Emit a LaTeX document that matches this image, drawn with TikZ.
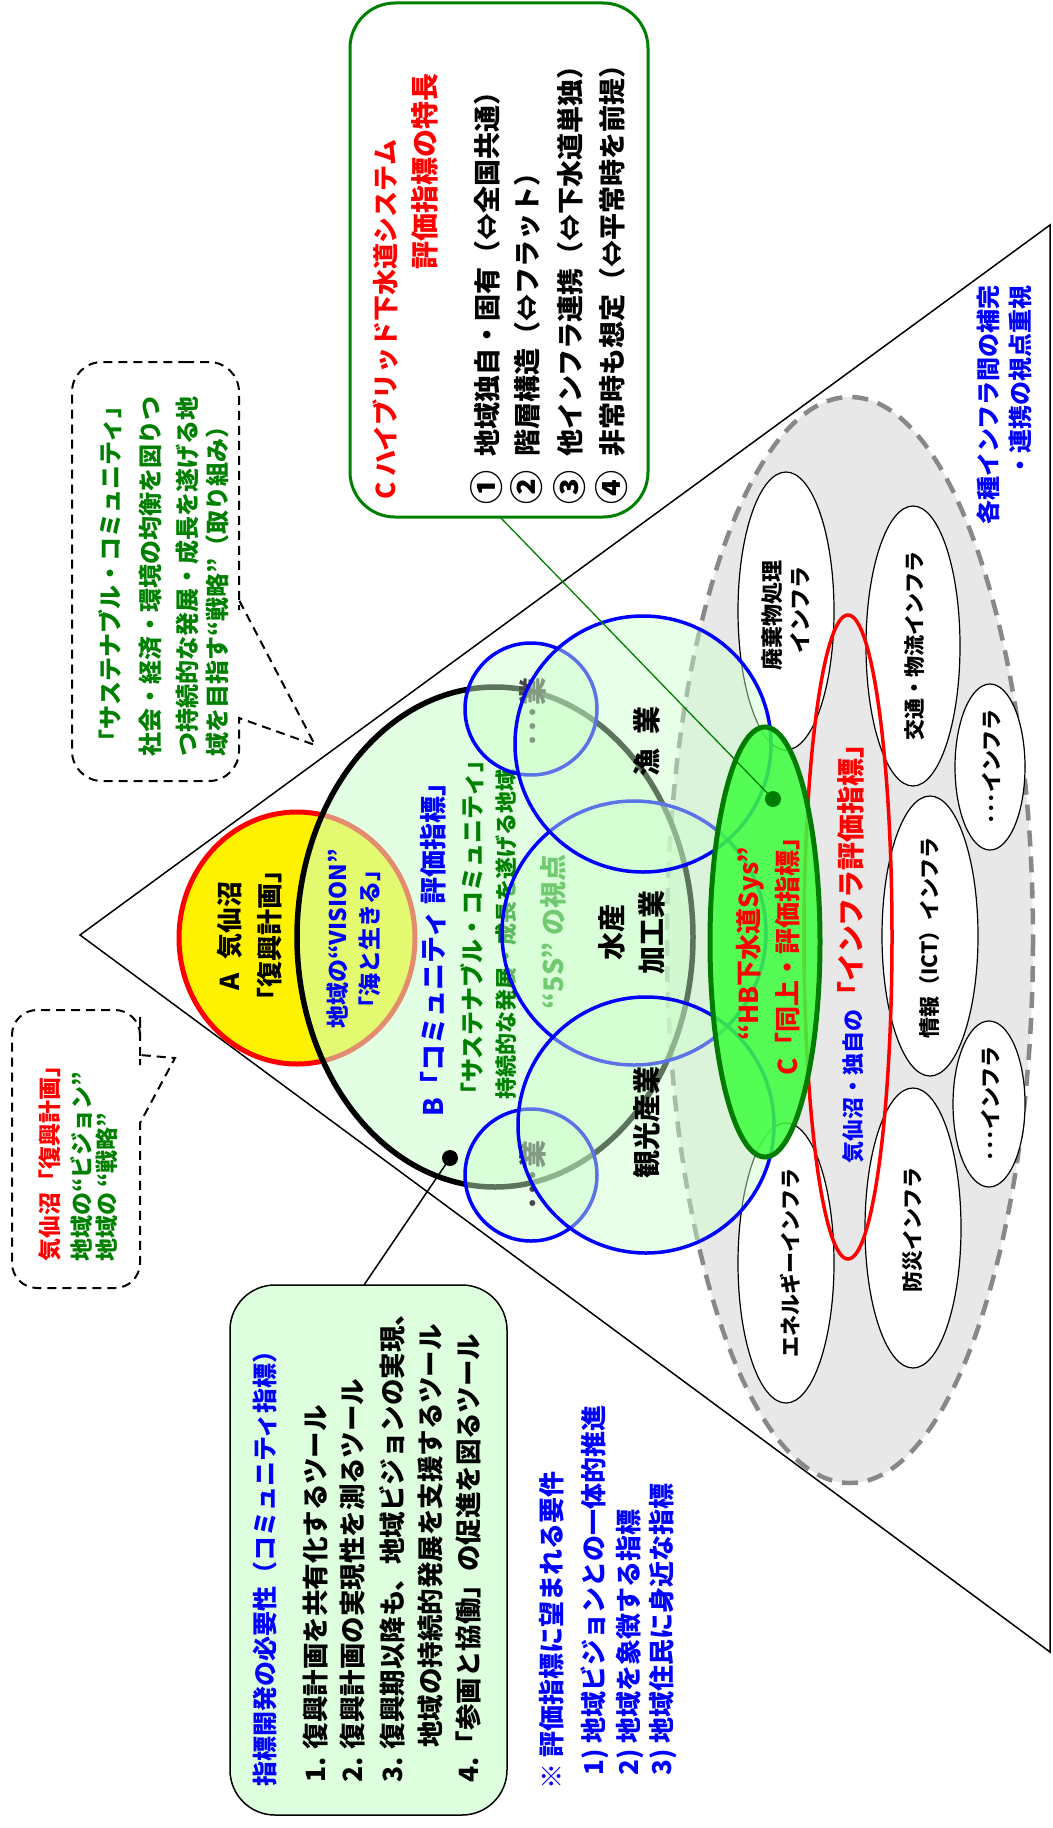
\documentclass[tikz,border=0pt]{standalone}
\usepackage{fontspec}
\setmainfont{Noto Sans CJK JP}
\usetikzlibrary{calc}
\newcommand\fsz[1]{\fontsize{#1pt}{#1pt}\selectfont}
\newcommand\cnum[1]{\raisebox{-2pt}{\fsz{34}#1}}
\definecolor{jblue}{RGB}{0,0,255}
\definecolor{jred}{RGB}{255,0,0}
\definecolor{jgreen}{RGB}{0,128,0}
\definecolor{paleg}{RGB}{204,255,204}
\definecolor{boxg}{RGB}{222,255,222}
\definecolor{infrag}{RGB}{232,232,232}
\definecolor{dashg}{RGB}{136,136,136}
\definecolor{hbg}{RGB}{60,255,60}
\definecolor{hbdark}{RGB}{0,125,0}
\definecolor{fivesg}{RGB}{40,160,40}
\definecolor{dotgray}{RGB}{70,70,70}

\begin{document}
\begin{tikzpicture}[x=1pt,y=-1pt,
  vt/.style={rotate=90,inner sep=0pt,font=\bfseries\fsz{#1}},
  circ/.style={draw=jblue,line width=3.5pt,fill=paleg,fill opacity=0.45},
  infra/.style={draw=black,line width=1.2pt,fill=white},
  callout/.style={draw=black,line width=2pt,dash pattern=on 9pt off 6pt},
  bubble/.style={rounded corners=45pt,inner sep=0pt}]
\useasboundingbox (0,0) rectangle (1052,1828);

% outer triangle
\draw[line width=1.5pt] (80,935) -- (1050,225) -- (1050,1652) -- cycle;

% infrastructure field
\fill[infrag] (850,940) ellipse[x radius=183,y radius=543];
\draw[dashg,line width=4.5pt,dash pattern=on 16pt off 10pt] (850,940) ellipse[x radius=183,y radius=543];

% individual infrastructures
\draw[infra] (786,611) ellipse[x radius=48,y radius=139];
\draw[infra] (913,646) ellipse[x radius=47,y radius=140];
\draw[infra] (990,767) ellipse[x radius=35,y radius=83];
\draw[infra] (930,936) ellipse[x radius=48,y radius=140];
\draw[infra] (989,1104) ellipse[x radius=36,y radius=83];
\draw[infra] (913,1228) ellipse[x radius=48,y radius=140];
\draw[infra] (786,1263) ellipse[x radius=48,y radius=140];
\node[vt=22] (waste1) at (772,615) {廃棄物処理};
\node[vt=22] (waste2) at (800,610) {インフラ};
\node[vt=21] (traffic) at (915,646) {交通・物流インフラ};
\node[vt=21] (etcup) at (992,767) {･･･インフラ};
\node[vt=21] (ict) at (930,938) {情報（ICT）インフラ};
\node[vt=21] (etclow) at (991,1104) {･･･インフラ};
\node[vt=21] (disaster) at (913,1230) {防災インフラ};
\node[vt=21] (energy) at (790,1263) {エネルギーインフラ};

% local infrastructure index
\draw[jred,line width=3.5pt] (848,937) ellipse[x radius=44,y radius=322];
\node[vt=22,anchor=west,text=jblue] (infraidx) at (851,1164)
  {気仙沼・独自の{\color{jred}\fsz{28}「インフラ評価指標」}};

% A: reconstruction plan
\filldraw[fill=yellow,draw=jred,line width=5pt] (297,938) ellipse[x radius=118,y radius=126];
\node[vt=26] (a1) at (230,936) {A\hspace{14pt}気仙沼};
\node[vt=26] (a2) at (270,935) {「復興計画」};

% B: community index
\fill[paleg,opacity=0.55] (495,937) ellipse[x radius=198,y radius=250];
\draw[line width=5.5pt] (495,937) ellipse[x radius=198,y radius=250];
\node[vt=23,text=jblue] (vis1) at (338,939) {地域の“VISION”};
\node[vt=23,text=jblue] (vis2) at (370,939) {「海と生きる」};
\node[vt=27,anchor=west,text=jblue] (btitle) at (433,1117) {B「コミュニティ 評価指標」};
\node[vt=24,anchor=west,text=jgreen] (bsus) at (472,1107) {「サステナブル・コミュニティ」};
\node[vt=22,anchor=west,text=jgreen] (bdev) at (506,1100) {持続的な発展・成長を遂げる地域};
\node[vt=27,text=fivesg] (fives) at (553,932) {“5S” の視点};

% industry circles
\draw[circ] (531,709) circle[radius=66];
\draw[circ] (531,1175) circle[radius=66];
\node[vt=28,text=dotgray] (indup) at (533,712) {･･･業};
\node[vt=28,text=dotgray] (indlow) at (533,1175) {･･･業};
\draw[circ] (634,933) circle[radius=132];
\draw[circ] (643,744) circle[radius=128];
\draw[circ] (646,1125) circle[radius=128];
\node[vt=28] (fish) at (647,741) {漁\hspace{14pt}業};
\node[vt=28] (proc1) at (612,932) {水産};
\node[vt=28] (proc2) at (652,932) {加工業};
\node[vt=28] (tour) at (647,1122) {観光産業};

% C: hybrid sewerage system
\filldraw[fill=hbg,fill opacity=0.85,draw=hbdark,line width=5pt] (765,942) ellipse[x radius=55,y radius=215];
\node[vt=26,text=jred] (hb1) at (750,944) {“HB下水道Sys”};
\node[vt=26,text=jred] (hb2) at (788,950) {C「同上・評価指標」};
\coordinate (hbdot) at (773,799);

% C box with features
\node[bubble,draw=jgreen,line width=3pt,fill=white,minimum width=298pt,minimum height=514pt] (cbox) at (499,260) {};
\node[vt=26,anchor=west,text=jred] (ctitle) at (385,500) {C ハイブリッド下水道システム};
\node[vt=28,anchor=west,text=jred] (csub) at (425,270) {評価指標の特長};
\node[vt=27,anchor=west] (c1) at (487,505) {\cnum{①}\hspace{14pt}地域独自・固有（⇔全国共通）};
\node[vt=27,anchor=west] (c2) at (527,505) {\cnum{②}\hspace{14pt}階層構造（⇔フラット）};
\node[vt=27,anchor=west] (c3) at (570,505) {\cnum{③}\hspace{14pt}他インフラ連携（⇔下水道単独）};
\node[vt=27,anchor=west] (c4) at (612,505) {\cnum{④}\hspace{14pt}非常時も想定（⇔平常時を前提）};
\coordinate (ctail) at (500,517);
\draw[jgreen,line width=1.3pt] (ctail) -- (hbdot);
\fill[hbdark] (hbdot) circle[radius=8];

% index development box
\node[bubble,draw=black,line width=1.5pt,fill=boxg,minimum width=277pt,minimum height=530pt] (needbox) at (368.5,1550) {};
\node[vt=25,anchor=west,text=jblue] (needtitle) at (265,1787) {指標開発の必要性（コミュニティ指標）};
\node[vt=26.5,anchor=west] (need1) at (315,1783) {1. 復興計画を共有化するツール};
\node[vt=26.5,anchor=west] (need2) at (353,1783) {2. 復興計画の実現性を測るツール};
\node[vt=26.5,anchor=west] (need3) at (392,1783) {3. 復興期以降も、地域ビジョンの実現、};
\node[vt=26.5,anchor=west] (need3b) at (430,1748) {地域の持続的発展を支援するツール};
\node[vt=26.5,anchor=west] (need4) at (468,1783) {4.「参画と協働」の促進を図るツール};
\coordinate (bdot) at (450,1158);
\coordinate (needtop) at (364,1285);
\draw[line width=1.5pt] (bdot) -- (needtop);
\fill (bdot) circle[radius=8];

% requirements
\node[vt=26,anchor=west,text=jblue] (req0) at (552,1790) {※ 評価指標に望まれる要件};
\node[vt=26,anchor=west,text=jblue] (req1) at (595,1776) {1) 地域ビジョンとの一体的推進};
\node[vt=26,anchor=west,text=jblue] (req2) at (630,1776) {2) 地域を象徴する指標};
\node[vt=26,anchor=west,text=jblue] (req3) at (663,1776) {3) 地域住民に身近な指標};

% callout: sustainable community
\draw[callout] (155,362) [rounded corners=30pt] -- (239,362) -- (239,580)
  [sharp corners] -- (239,600) -- (315,745) -- (239,718) -- (239,740)
  [rounded corners=30pt] -- (239,781) -- (72,781) -- (72,362) -- cycle;
\node[vt=24,text=jgreen] (sus0) at (110,574) {「サステナブル・コミュニティ」};
\node[vt=24,anchor=west,text=jgreen] (sus1) at (150,757) {社会・経済・環境の均衡を図りつ};
\node[vt=24,anchor=west,text=jgreen] (sus2) at (187,757) {つ持続的な発展・成長を遂げる地};
\node[vt=24,anchor=west,text=jgreen] (sus3) at (217,757) {域を目指す“戦略”（取り組み）};

% callout: plan, vision, strategy
\draw[callout] (76,1010) [rounded corners=25pt] -- (140,1010) -- (140,1040)
  [sharp corners] -- (140,1055) -- (175,1058) -- (140,1123) -- (140,1140)
  [rounded corners=25pt] -- (140,1288) -- (12,1288) -- (12,1010) -- cycle;
\node[vt=23,anchor=west,text=jred] (pvs1) at (50,1262) {気仙沼「復興計画」};
\node[vt=23,anchor=west,text=jgreen] (pvs2) at (82,1262) {地域の“ビジョン”};
\node[vt=23,anchor=west,text=jgreen] (pvs3) at (107,1262) {地域の “戦略”};

% complementarity note
\node[vt=24,anchor=east,text=jblue] (note1) at (988,285) {各種インフラ間の補完};
\node[vt=24,anchor=east,text=jblue] (note2) at (1020,285) {・連携の視点重視};
\end{tikzpicture}
\end{document}
